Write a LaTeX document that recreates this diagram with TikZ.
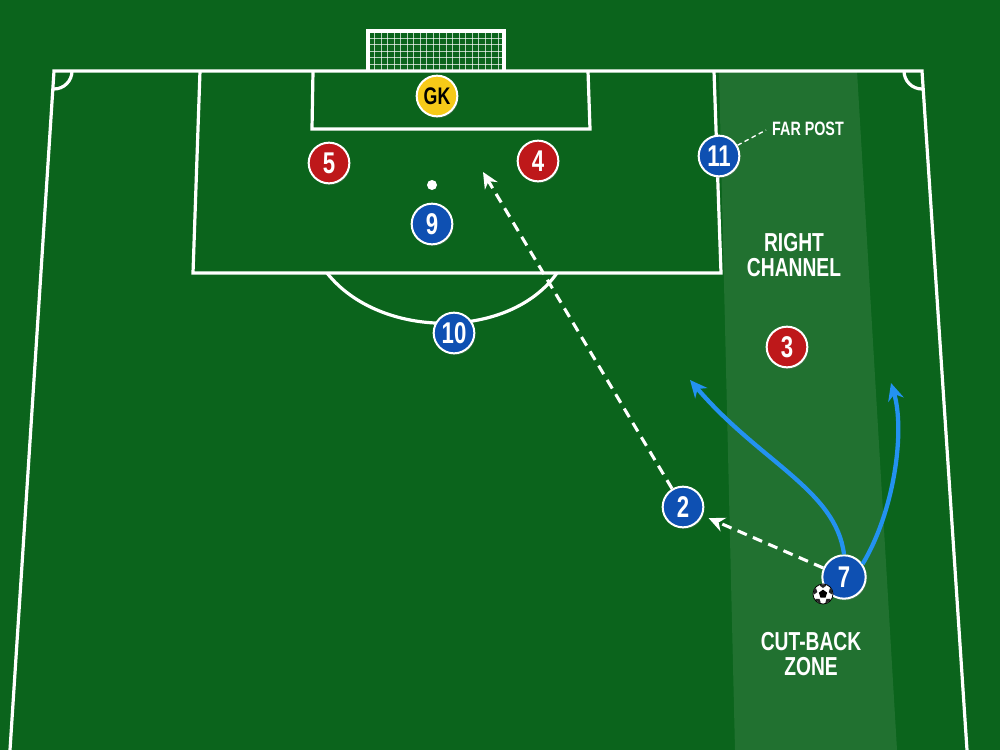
\documentclass[tikz,border=0pt]{standalone}
\usepackage{fontspec}
\newfontfamily\cond{Liberation Sans}[FakeStretch=0.74]
\usetikzlibrary{arrows.meta,shadows,shapes.geometric}
\definecolor{pitch}{RGB}{11,100,28}
\definecolor{pblue}{RGB}{14,80,178}
\definecolor{pred}{RGB}{190,24,26}
\definecolor{pyellow}{RGB}{246,202,24}
\definecolor{runblue}{RGB}{35,146,240}
\begin{document}
\begin{tikzpicture}[x=0.75pt,y=-0.75pt,
  pitchline/.style={white, line width=2.4pt, line join=miter},
  netline/.style={white, line width=0.6pt, opacity=0.7},
  player/.style={circle, minimum size=30.5pt, inner sep=0pt, draw=white, line width=1.5pt,
    font=\cond\bfseries\fontsize{22.5}{22.5}\selectfont, text=white,
    drop shadow={opacity=0.35, shadow xshift=0.8pt, shadow yshift=-1.2pt}},
  blueP/.style={player, fill=pblue},
  redP/.style={player, fill=pred},
  gkP/.style={player, fill=pyellow, text=black, font=\cond\bfseries\fontsize{18}{18}\selectfont},
  lbl/.style={text=white, align=center, font=\cond\bfseries\fontsize{19.5}{19.5}\selectfont},
  smalllbl/.style={text=white, font=\cond\bfseries\fontsize{14.5}{15}\selectfont},
  passarrow/.style={white, line width=2.3pt, dash pattern=on 7.5pt off 5pt,
    -{Stealth[length=12pt, width=11pt]}},
  runarrow/.style={runblue, line width=3.2pt, -{Stealth[length=13pt, width=12pt]}}
]
\fill[pitch] (0,0) rectangle (1000,750);
\useasboundingbox (0,0) rectangle (1000,750);
% channel strip
\fill[white, opacity=0.09] (719,71) -- (857,71) -- (897,750) -- (735,750) -- cycle;
% pitch lines
\draw[pitchline] (10,750) -- (54,71) -- (922,71) -- (967,750);
\draw[pitchline] (72,71) arc[start angle=0, end angle=-90, radius=13.5pt];
\draw[pitchline] (904,71) arc[start angle=180, end angle=270, radius=13.5pt];
\draw[pitchline] (200,71) -- (193,273) -- (721,273) -- (714,71);
\draw[pitchline] (313,71) -- (312,129) -- (590,129) -- (588,71);
\draw[pitchline] (327,273) .. controls (380,340) and (510,340) .. (557,273);
\node[circle, fill=white, minimum size=7.5pt, inner sep=0pt] (spot) at (432,185) {};
% goal and net
\foreach \x in {374.5,381,...,500} \draw[netline] (\x,32) -- (\x,70);
\foreach \y in {38,44.5,...,70} \draw[netline] (369,\y) -- (503,\y);
\draw[pitchline] (368,72) -- (368,31) -- (504,31) -- (504,72);
% strip labels
\node[smalllbl] (fp) at (808,129) {FAR POST};
\node[lbl] (rc) at (794,255) {RIGHT\\[-1pt]CHANNEL};
\node[lbl] (cb) at (811,654) {CUT-BACK\\[-1pt]ZONE};
% players
\node[gkP] (gk) at (437,96) {GK};
\node[redP] (p5) at (329,163) {5};
\node[redP] (p4) at (538,161) {4};
\node[redP] (p3) at (787,347) {3};
\node[blueP] (p9) at (432,224) {9};
\node[blueP] (p10) at (454,333) {10};
\node[blueP] (p11) at (719,156) {11};
\node[blueP] (p2) at (683,507) {2};
\node[blueP, minimum size=32.5pt] (p7) at (844,577) {7};
% far post pointer
\coordinate (fpend) at (766,130);
\draw[white, line width=1pt, dash pattern=on 3.5pt off 2.5pt] (p11.30) -- (fpend);
% runs
\coordinate (t1) at (690,380);
\coordinate (t2) at (891,383);
\draw[runarrow] (p7.north) .. controls (836,490) and (760,462) .. (t1);
\draw[runarrow] (p7.35) .. controls (895,510) and (905,430) .. (t2);
% passes
\coordinate (t9) at (483,172);
\draw[passarrow] (p2) -- (t9);
\draw[passarrow, shorten >=5pt] (p7) -- (p2);
% ball
\node[circle, fill=white, draw=black, line width=0.6pt, minimum size=15pt, inner sep=0pt] (ball) at (823,594) {};
\begin{scope}
  \clip (ball.center) circle[radius=7.2pt];
  \node[regular polygon, regular polygon sides=5, fill=black, minimum size=6.5pt, inner sep=0pt] at (ball.center) {};
  \foreach \a in {18,90,162,234,306}
    \node[regular polygon, regular polygon sides=5, rotate=\a+90, fill=black!85, minimum size=5pt, inner sep=0pt] at ([shift={(\a:7pt)}]ball.center) {};
\end{scope}
\end{tikzpicture}
\end{document}
